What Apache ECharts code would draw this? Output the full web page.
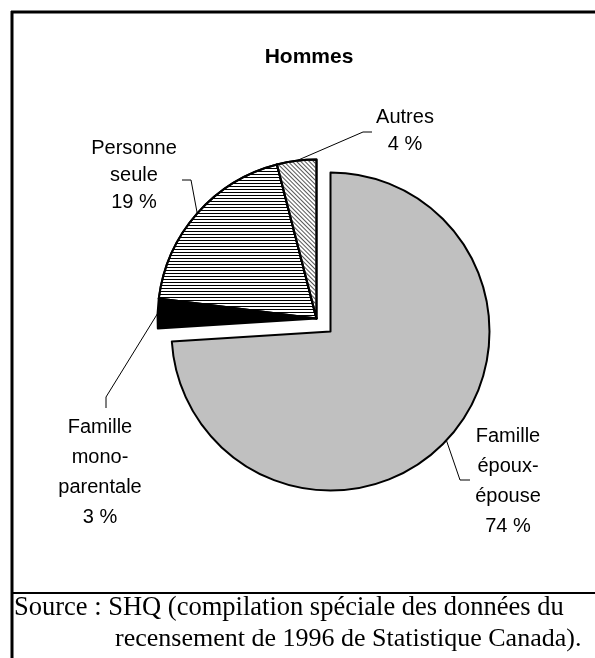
<!DOCTYPE html>
<html>
<head>
<meta charset="utf-8">
<script src="https://cdn.jsdelivr.net/npm/echarts@6/dist/echarts.min.js"></script>
<style>
  html, body { margin: 0; padding: 0; background: #fff; }
  #chart { width: 595px; height: 658px; }
</style>
</head>
<body>
<div id="chart"></div>
<script>
// valeurs (Hommes, %)
const categories = ['Famille époux-épouse', 'Famille monoparentale', 'Personne seule', 'Autres'];
const values = [74, 3, 19, 4];
const labelTexts = [
  'Famille\népoux-\népouse\n74 %',
  'Famille\nmono-\nparentale\n3 %',
  'Personne\nseule\n19 %',
  'Autres\n4 %'
];

// position des étiquettes (centre) et coude/fin des lignes de rappel
const labelPos = [[508, 481], [100, 472], [134, 175], [405, 131]];
const leaderPts = [
  [[460, 480], [470, 480]],
  [[106, 397], [106, 408]],
  [[191, 180], [182, 180]],
  [[363, 132], [372, 132]]
];
const lineHeights = [30, 30, 27, 27];

const fills = [
  { color: '#c0c0c0' },
  { color: '#000' },
  { color: '#fff', decal: { symbol: 'rect', symbolSize: 1, dashArrayX: [1, 0], dashArrayY: [1, 2], color: '#000' } },
  { color: '#fff', decal: { symbol: 'rect', symbolSize: 1, dashArrayX: [1, 0], dashArrayY: [1, 1.5], rotation: Math.PI / 4, color: '#555' } }
];

const hidden = { color: 'transparent', borderWidth: 0 };

function buildData(showBig) {
  return categories.map((name, i) => {
    const visible = showBig ? i === 0 : i !== 0;
    return {
      name: name,
      value: values[i],
      itemStyle: visible ? fills[i] : hidden,
      label: { show: visible, formatter: labelTexts[i], lineHeight: lineHeights[i] },
      labelLine: { show: visible }
    };
  });
}

function layoutLabel(params) {
  const i = params.dataIndex;
  const p0 = params.labelLinePoints ? params.labelLinePoints[0] : null;
  return {
    x: labelPos[i][0],
    y: labelPos[i][1],
    align: 'center',
    verticalAlign: 'middle',
    labelLinePoints: p0 ? [p0, leaderPts[i][0], leaderPts[i][1]] : undefined
  };
}

const pieBase = {
  type: 'pie',
  radius: 159,
  startAngle: 90,
  clockwise: true,
  avoidLabelOverlap: false,
  silent: true,
  animation: false,
  emphasis: { disabled: true, scale: false },
  itemStyle: { borderColor: '#000', borderWidth: 2 },
  label: {
    position: 'outside',
    color: '#000',
    fontFamily: 'Liberation Sans, Arial, sans-serif',
    fontSize: 20,
    align: 'center'
  },
  labelLine: { lineStyle: { color: '#000', width: 1 } },
  labelLayout: layoutLabel
};

const chart = echarts.init(document.getElementById('chart'), null, { renderer: 'canvas' });
chart.setOption({
  backgroundColor: '#fff',
  animation: false,
  title: {
    text: 'Hommes',
    left: 304,
    top: 42,
    textAlign: 'center',
    textStyle: { fontFamily: 'Liberation Sans, Arial, sans-serif', fontSize: 21, fontWeight: 'bold', color: '#000' }
  },
  graphic: [
    { type: 'line', shape: { x1: 11, y1: 12, x2: 595, y2: 12 }, style: { stroke: '#000', lineWidth: 3 } },
    { type: 'line', shape: { x1: 12, y1: 11, x2: 12, y2: 658 }, style: { stroke: '#000', lineWidth: 3 } },
    { type: 'line', shape: { x1: 13, y1: 593, x2: 595, y2: 593 }, style: { stroke: '#000', lineWidth: 2 } },
    { type: 'text', left: 14, top: 595, style: { text: 'Source : SHQ (compilation spéciale des données du', fill: '#000', font: '26.5px "Liberation Serif", "Times New Roman", serif' } },
    { type: 'text', left: 115, top: 626, style: { text: 'recensement de 1996 de Statistique Canada).', fill: '#000', font: '26px "Liberation Serif", "Times New Roman", serif' } }
  ],
  series: [
    Object.assign({}, pieBase, { name: 'autres', center: [316.5, 318.5], data: buildData(false) }),
    Object.assign({}, pieBase, { name: 'couple', center: [330.5, 331.5], data: buildData(true) })
  ]
});
</script>
</body>
</html>
